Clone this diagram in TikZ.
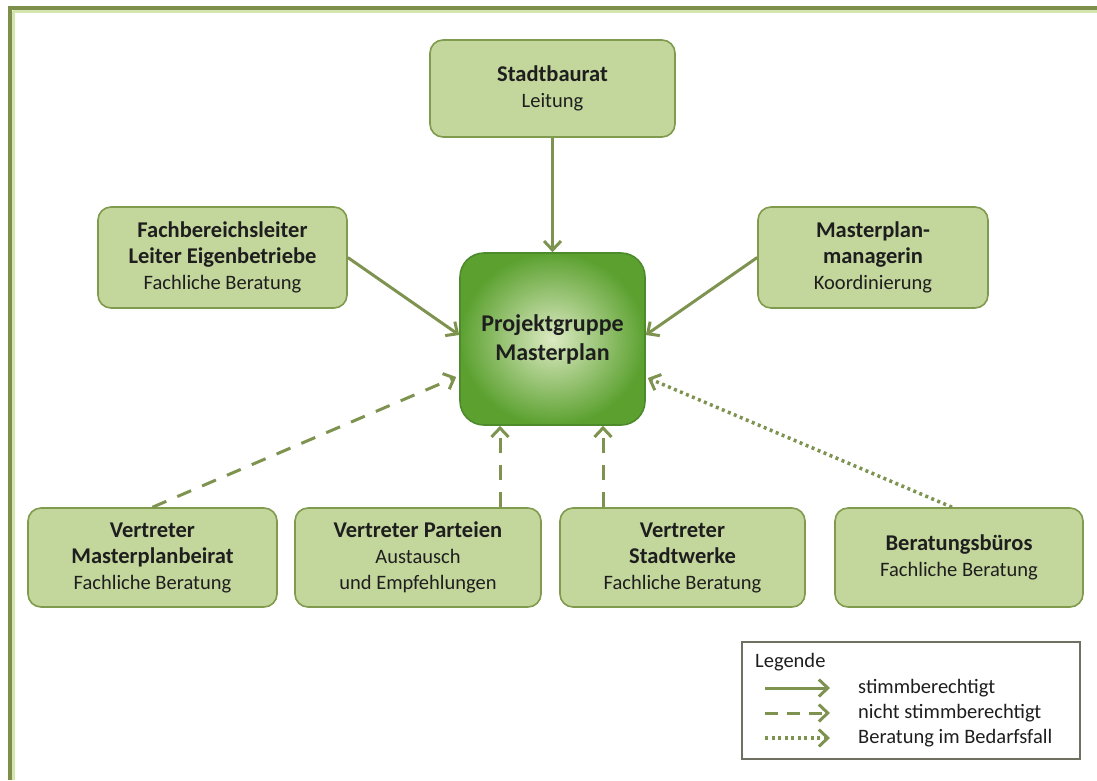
\documentclass[tikz,border=0pt]{standalone}
\usepackage{fontspec}
\setmainfont{Carlito}
\usetikzlibrary{arrows.meta}
\definecolor{framecol}{HTML}{7E8F4B}
\definecolor{framelight}{HTML}{D2E6AE}
\definecolor{boxfill}{HTML}{C3D69B}
\definecolor{boxborder}{HTML}{809A4E}
\definecolor{arrowcol}{HTML}{7E9350}
\definecolor{pginner}{HTML}{DCEAC2}
\definecolor{pgouter}{HTML}{5CA130}
\definecolor{pgborder}{HTML}{4D8A2C}
\definecolor{legborder}{HTML}{6F7062}
\definecolor{txt}{HTML}{1E1E1E}
\newcommand{\bl}[1]{{\fontsize{22.5}{26}\selectfont\bfseries #1}}
\tikzset{
  orgbox/.style={draw=boxborder, line width=1.6pt, fill=boxfill, rounded corners=13pt,
    align=center, inner sep=0pt, text=txt, font=\fontsize{20.5}{26}\selectfont},
  conn/.style={draw=arrowcol, line width=3pt, -{Straight Barb[length=9pt,width=17pt,line width=3pt]}},
  dashconn/.style={conn, dash pattern=on 15pt off 12pt},
  dotconn/.style={conn, line width=3.5pt, dash pattern=on 3pt off 3.5pt},
  legtext/.style={anchor=west, inner sep=0pt, text=txt, font=\fontsize{20.5}{25}\selectfont},
}
\begin{document}
\begin{tikzpicture}[x=1pt,y=-1pt]
\useasboundingbox (0,0) rectangle (1097,780);
% frame
\draw[framelight, line width=3pt] (13,11) -- (1097,11);
\draw[framelight, line width=3pt] (13,11) -- (13,780);
\draw[framecol, line width=4pt] (8,8) -- (1097,8);
\draw[framecol, line width=4pt] (10,6) -- (10,780);

% nodes
\node[orgbox, minimum width=245pt, minimum height=97pt] (sb) at (552.5,88.5)
  {\bl{Stadtbaurat}\\Leitung};
\node[orgbox, minimum width=249pt, minimum height=101pt] (fb) at (222.5,257.5)
  {\bl{Fachbereichsleiter}\\\bl{Leiter Eigenbetriebe}\\Fachliche Beratung};
\node[orgbox, minimum width=230pt, minimum height=101pt] (mm) at (873,257.5)
  {\bl{Masterplan-}\\\bl{managerin}\\Koordinierung};
\node[draw=pgborder, line width=1.6pt, inner color=pginner, outer color=pgouter,
  rounded corners=24pt, minimum width=185pt, minimum height=172pt, align=center,
  inner sep=0pt, text=txt, font=\fontsize{24}{29}\selectfont\bfseries] (pg) at (552.5,339)
  {Projektgruppe\\Masterplan};
\node[orgbox, minimum width=249pt, minimum height=99pt] (vm) at (152.5,557.5)
  {\bl{Vertreter}\\\bl{Masterplanbeirat}\\Fachliche Beratung};
\node[orgbox, minimum width=246pt, minimum height=99pt] (vp) at (418,557.5)
  {\bl{Vertreter Parteien}\\Austausch\\und Empfehlungen};
\node[orgbox, minimum width=245pt, minimum height=99pt] (vs) at (682.5,557.5)
  {\bl{Vertreter}\\\bl{Stadtwerke}\\Fachliche Beratung};
\node[orgbox, minimum width=248pt, minimum height=99pt] (bb) at (959,557.5)
  {\bl{Beratungsbüros}\\Fachliche Beratung};

% connectors
\draw[conn] (sb.south) -- (pg.north);
\draw[conn] (fb.east) -- ([yshift=4pt]pg.west);
\draw[conn] (mm.west) -- ([yshift=4pt]pg.east);
\draw[dashconn] (vm.north) -- ([xshift=-3pt,yshift=-38pt]pg.west);
\draw[dashconn] ([xshift=-52.5pt]pg.south |- vp.north) -- ([xshift=-52.5pt]pg.south);
\draw[dashconn] ([xshift=50.5pt]pg.south |- vs.north) -- ([xshift=50.5pt]pg.south);
\draw[dotconn] ([xshift=-7pt]bb.north) -- ([xshift=2pt,yshift=-39pt]pg.east);

% legend
\node[draw=legborder, line width=1.3pt, fill=white, minimum width=338pt, minimum height=117pt,
  inner sep=0pt] (leg) at (911,700.5) {};
\node[legtext] (legt) at (755,662) {Legende};
\coordinate (la1) at (765,688); \coordinate (lb1) at (830,688);
\coordinate (la2) at (765,713); \coordinate (lb2) at (830,713);
\coordinate (la3) at (765,738); \coordinate (lb3) at (830,738);
\draw[conn] (la1) -- (lb1);
\draw[conn, dash pattern=on 13pt off 9pt] (la2) -- (lb2);
\draw[dotconn] (la3) -- (lb3);
\node[legtext] (lt1) at (858,688) {stimmberechtigt};
\node[legtext] (lt2) at (858,713) {nicht stimmberechtigt};
\node[legtext] (lt3) at (858,738) {Beratung im Bedarfsfall};
\end{tikzpicture}
\end{document}
